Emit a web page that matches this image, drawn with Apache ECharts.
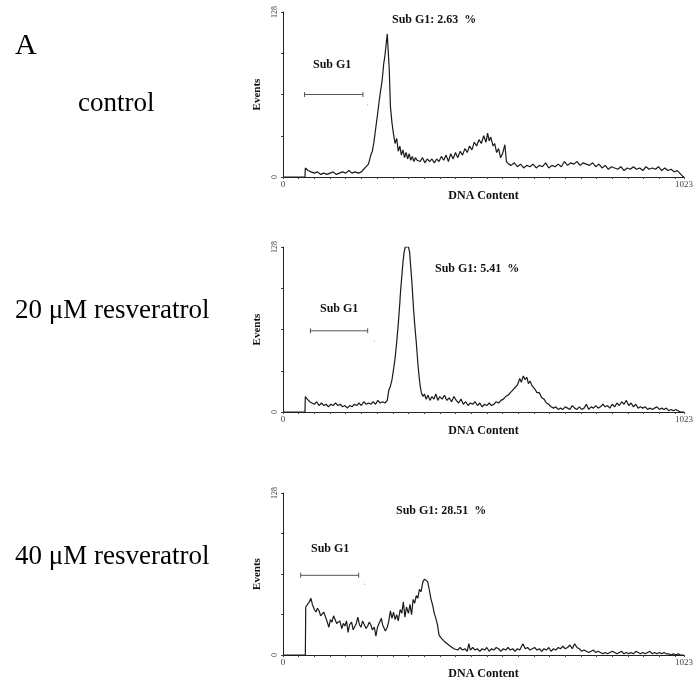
<!DOCTYPE html>
<html lang="en">
<head>
    <meta charset="UTF-8">
    <title>Sub G1</title>
    <script src="https://cdn.jsdelivr.net/npm/echarts@6/dist/echarts.min.js"></script>
    <style>
        html, body { margin: 0; padding: 0; background: #fff; }
        #main { width: 696px; height: 681px; }
    </style>
</head>
<body>
    <div id="main"></div>
<script>
    // DNA content histograms, [channel, events]
    var controlData = [[0,0],[56,0],[57,7],[64,5],[72,4],[80,3],[88,4],[96,2],[104,3],[112,2],[120,3],[128,4],[136,2],[144,3],[152,4],[160,3],[168,5],[176,3],[184,4],[192,3],[200,4],[206,6],[212,8],[218,10],[224,17],[228,20],[232,27],[237,39],[241,48],[245,58],[249,67],[253,75],[257,88],[260,94],[263,95],[266,111],[268,100],[271,84],[274,55],[278,42],[282,33],[286,26],[290,30],[294,20],[298,24],[302,17],[306,21],[310,15],[314,19],[318,14],[322,18],[326,13],[330,16],[334,12],[338,15],[342,13],[346,14],[350,12],[356,15],[362,11],[368,14],[374,12],[380,14],[386,11],[392,14],[398,12],[404,16],[410,13],[416,17],[422,12],[428,18],[434,14],[440,19],[446,15],[452,20],[458,17],[464,22],[470,19],[476,24],[482,21],[488,27],[494,24],[500,29],[506,26],[512,32],[518,27],[522,34],[526,28],[530,31],[536,24],[540,26],[545,19],[550,22],[555,15],[560,18],[566,25],[570,12],[576,10],[582,9],[590,11],[598,8],[606,10],[614,7],[622,9],[630,8],[638,10],[646,7],[654,9],[662,8],[670,11],[678,7],[686,9],[694,8],[702,10],[710,8],[718,12],[726,9],[734,11],[742,10],[750,12],[758,9],[766,11],[774,10],[782,9],[790,11],[798,8],[806,10],[814,7],[822,9],[830,6],[838,8],[846,7],[854,6],[862,8],[870,5],[878,7],[886,6],[894,8],[902,6],[910,7],[918,5],[926,8],[934,6],[942,7],[950,6],[958,8],[966,5],[974,7],[982,5],[990,6],[998,4],[1006,5],[1012,3],[1018,1],[1023,0]];

    var res20Data = [[0,0],[56,0],[57,12],[62,10],[68,8],[74,7],[80,6],[86,8],[92,5],[98,7],[104,5],[110,6],[116,4],[122,6],[128,5],[134,7],[140,5],[146,6],[152,4],[158,5],[164,3],[170,5],[176,4],[182,6],[188,5],[194,7],[200,5],[206,8],[212,6],[218,7],[224,6],[230,8],[236,6],[242,9],[248,7],[254,8],[260,7],[266,9],[270,17],[274,20],[278,25],[282,33],[286,42],[290,54],[294,68],[297,80],[300,94],[303,105],[306,116],[309,124],[312,128],[316,128],[320,128],[323,124],[326,112],[329,100],[333,80],[336,68],[340,54],[344,38],[347,28],[350,20],[353,15],[357,12],[361,14],[365,10],[370,13],[375,9],[380,12],[385,10],[390,14],[395,9],[400,12],[406,10],[412,13],[418,9],[424,11],[430,8],[436,12],[442,9],[448,7],[454,10],[460,6],[466,8],[472,5],[478,7],[484,6],[490,8],[496,5],[502,7],[508,4],[514,6],[520,5],[526,7],[532,5],[538,6],[544,8],[550,7],[556,9],[562,10],[568,12],[574,13],[580,15],[586,17],[592,19],[598,21],[604,26],[608,23],[613,28],[618,25],[622,27],[626,22],[630,24],[636,20],[642,18],[648,15],[654,15],[660,11],[666,10],[672,7],[678,6],[684,4],[690,3],[696,4],[702,2],[708,3],[714,2],[720,4],[726,3],[732,2],[738,5],[744,3],[750,2],[756,4],[762,2],[768,3],[774,6],[780,2],[786,4],[792,3],[798,5],[804,3],[810,4],[816,6],[822,4],[828,5],[834,3],[840,6],[846,4],[852,7],[858,5],[864,8],[870,6],[876,9],[882,5],[888,7],[894,4],[900,6],[906,3],[912,4],[918,3],[924,4],[930,2],[936,3],[942,2],[948,3],[954,4],[960,2],[966,3],[972,2],[978,3],[984,1],[990,2],[996,1],[1002,2],[1008,1],[1014,0],[1023,0]];

    var res40Data = [[0,0],[57,0],[58,38],[63,37],[67,42],[71,45],[75,40],[80,36],[84,34],[88,37],[92,35],[96,31],[100,30],[104,34],[108,33],[112,27],[117,22],[121,28],[125,26],[129,31],[133,30],[137,25],[141,24],[145,27],[150,21],[154,25],[158,23],[162,27],[166,18],[170,24],[175,26],[179,20],[183,21],[187,25],[191,30],[195,24],[199,22],[203,27],[208,26],[212,21],[216,23],[220,26],[224,24],[228,20],[233,22],[237,15],[241,22],[245,25],[251,29],[254,24],[257,23],[261,19],[266,22],[270,27],[274,35],[278,29],[282,34],[286,28],[290,32],[294,27],[299,36],[303,33],[307,42],[311,30],[315,38],[320,33],[324,40],[328,32],[332,44],[336,41],[340,47],[344,45],[348,52],[352,50],[357,58],[361,60],[365,61],[369,58],[373,52],[377,45],[382,39],[386,33],[390,29],[394,24],[398,16],[402,14],[406,13],[411,11],[415,10],[419,9],[423,8],[427,7],[431,7],[436,5],[440,6],[446,4],[452,6],[458,4],[464,5],[470,3],[474,9],[478,4],[484,6],[490,4],[496,5],[502,3],[508,5],[514,4],[520,6],[526,3],[532,5],[538,4],[544,6],[550,5],[556,3],[562,5],[568,4],[574,6],[580,4],[586,5],[592,3],[598,5],[604,4],[612,9],[618,5],[624,6],[630,4],[636,5],[642,6],[648,4],[654,5],[660,3],[666,5],[672,4],[678,6],[684,3],[690,5],[696,4],[702,6],[708,5],[714,7],[720,5],[726,6],[732,8],[738,5],[744,9],[750,6],[756,5],[762,3],[768,4],[774,3],[780,2],[786,3],[792,4],[798,2],[804,3],[810,2],[816,1],[822,2],[828,1],[834,2],[840,3],[846,2],[852,1],[858,2],[864,3],[870,1],[876,2],[882,1],[888,2],[894,1],[900,3],[906,2],[912,1],[918,2],[924,1],[930,2],[936,3],[942,1],[948,2],[954,1],[960,2],[966,1],[972,2],[978,1],[984,1],[990,0],[996,1],[1002,0],[1008,1],[1014,0],[1023,0]];

    // sub G1 gate (start, end, height), stray dot, and percentages
    var gateStart = [55, 70, 45];
    var gateEnd = [204, 216, 193];
    var gateLevel = [64, 63, 63];
    var dotPoints = [[216, 56], [233, 55], [208, 56]];
    var subG1Pct = ['2.63', '5.41', '28.51'];
    var panelNames = ['control', '20 \u03bcM resveratrol', '40 \u03bcM resveratrol'];
    var xTickLabels = [0, 1023];
    var yTickLabels = [0, 128];

    var serif = "'Liberation Serif', 'Times New Roman', serif";
    var grids = [
        {left: 283, top: 12, width: 412, height: 165},
        {left: 283, top: 247, width: 412, height: 165},
        {left: 283, top: 493, width: 412, height: 165}
    ];
    var allData = [controlData, res20Data, res40Data];

    var myChart = echarts.init(document.getElementById('main'), null, {renderer: 'canvas'});

    var xAxes = [], yAxes = [], series = [];
    for (var i = 0; i < 3; i++) {
        xAxes.push({
            gridIndex: i, type: 'value', min: 0, max: 1023, interval: 40,
            name: 'DNA Content', nameLocation: 'middle', nameGap: 10,
            nameTextStyle: {fontFamily: serif, fontWeight: 'bold', fontSize: 12, color: '#111'},
            axisLine: {lineStyle: {color: '#222', width: 1}},
            axisTick: {length: 2, lineStyle: {color: '#444'}},
            splitLine: {show: false},
            axisLabel: {
                fontFamily: serif, fontSize: 9, color: '#444', margin: 3, align: 'center',
                alignMinLabel: 'center', alignMaxLabel: 'center',
                formatter: function (v) { return xTickLabels.indexOf(v) >= 0 ? String(v) : ''; }
            }
        });
        yAxes.push({
            gridIndex: i, type: 'value', min: 0, max: 128, interval: 32,
            name: 'Events', nameLocation: 'middle', nameGap: 12,
            nameTextStyle: {fontFamily: serif, fontWeight: 'bold', fontSize: 11, color: '#111'},
            axisLine: {show: true, lineStyle: {color: '#222', width: 1}},
            axisTick: {show: true, length: 2, lineStyle: {color: '#444'}},
            splitLine: {show: false},
            axisLabel: {
                fontFamily: serif, fontSize: 8, color: '#444', margin: 4, rotate: 90,
                formatter: function (v) { return yTickLabels.indexOf(v) >= 0 ? String(v) : ''; }
            }
        });
        series.push({
            type: 'line', xAxisIndex: i, yAxisIndex: i, data: allData[i],
            showSymbol: false, symbol: 'none',
            lineStyle: {color: '#1a1a1a', width: 1.2},
            z: 3
        });
        // gate bar
        series.push({
            type: 'line', xAxisIndex: i, yAxisIndex: i,
            data: [[gateStart[i], gateLevel[i]], [gateEnd[i], gateLevel[i]]],
            symbol: 'rect', symbolSize: [1, 5], showSymbol: true,
            itemStyle: {color: '#555'},
            lineStyle: {color: '#555', width: 1}
        });
        series.push({
            type: 'scatter', xAxisIndex: i, yAxisIndex: i,
            data: [dotPoints[i]], symbolSize: 1.5,
            itemStyle: {color: '#aaa'}
        });
    }

    var titles = [
        {text: 'A', left: 15, top: 31, textStyle: {fontFamily: serif, fontSize: 30, fontWeight: 'normal', color: '#000'}},
        {text: panelNames[0], left: 78, top: 90, textStyle: {fontFamily: serif, fontSize: 27, fontWeight: 'normal', color: '#000'}},
        {text: panelNames[1], left: 15, top: 297, textStyle: {fontFamily: serif, fontSize: 27, fontWeight: 'normal', color: '#000'}},
        {text: panelNames[2], left: 15, top: 543, textStyle: {fontFamily: serif, fontSize: 27, fontWeight: 'normal', color: '#000'}},
        {text: 'Sub G1: ' + subG1Pct[0] + '  %', left: 392, top: 14, textStyle: {fontFamily: serif, fontSize: 12, fontWeight: 'bold', color: '#111'}},
        {text: 'Sub G1: ' + subG1Pct[1] + '  %', left: 435, top: 263, textStyle: {fontFamily: serif, fontSize: 12, fontWeight: 'bold', color: '#111'}},
        {text: 'Sub G1: ' + subG1Pct[2] + '  %', left: 396, top: 505, textStyle: {fontFamily: serif, fontSize: 12, fontWeight: 'bold', color: '#111'}},
        {text: 'Sub G1', left: 313, top: 59, textStyle: {fontFamily: serif, fontSize: 12, fontWeight: 'bold', color: '#111'}},
        {text: 'Sub G1', left: 320, top: 303, textStyle: {fontFamily: serif, fontSize: 12, fontWeight: 'bold', color: '#111'}},
        {text: 'Sub G1', left: 311, top: 543, textStyle: {fontFamily: serif, fontSize: 12, fontWeight: 'bold', color: '#111'}}
    ];
    for (var t = 0; t < titles.length; t++) titles[t].padding = 0;

    var option = {
        animation: false,
        backgroundColor: '#fff',
        title: titles,
        grid: grids,
        xAxis: xAxes,
        yAxis: yAxes,
        series: series
    };
    myChart.setOption(option);
</script>
</body>
</html>
